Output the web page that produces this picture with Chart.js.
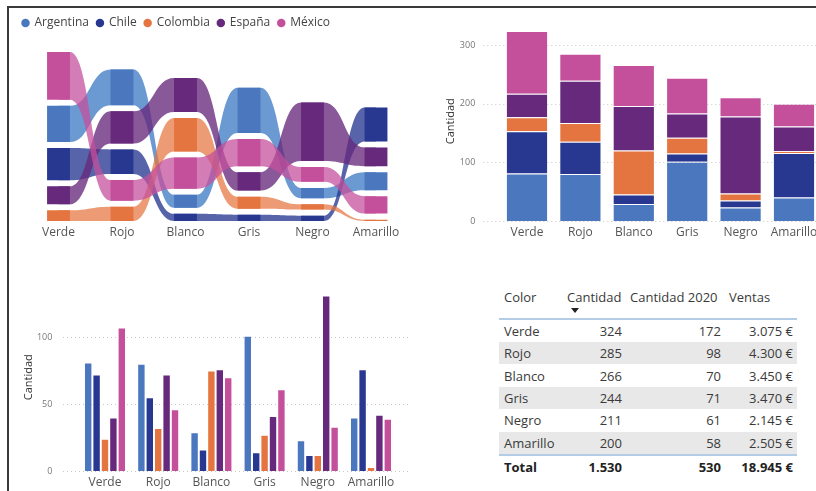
<!DOCTYPE html>
<html lang="es">
<head>
<meta charset="utf-8">
<title>Cantidad por color y país</title>
<script src="https://cdn.jsdelivr.net/npm/chart.js@4.4.1/dist/chart.umd.min.js"></script>
<style>
  body { margin: 0; width: 816px; height: 491px; overflow: hidden; background: #fff; position: relative;
         font-family: 'Segoe UI', 'Open Sans', sans-serif; }
  .marco { position: absolute; left: 7px; top: 6px; width: 900px; height: 600px;
           border-left: 2px solid #3a3a3a; border-top: 2px solid #3a3a3a; }
  canvas { position: absolute; }
  #cinta { left: 10px; top: 9px; }
  #apilado { left: 420px; top: 9px; }
  #agrupado { left: 10px; top: 255px; }
  #tabla { position: absolute; left: 499px; top: 285px; width: 298px; border-collapse: collapse;
           font-size: 13px; color: #3a3a3a; }
  #tabla th { font-weight: normal; text-align: left; vertical-align: top; height: 34px; padding: 4px 4px 0 4px;
              line-height: 17px; border-bottom: 2px solid #b4cde6; box-sizing: border-box; white-space: nowrap; }
  #tabla td { height: 22.4px; padding: 0 4px; line-height: 22px; text-align: right; white-space: nowrap; box-sizing: border-box; }
  #tabla td:first-child { text-align: left; padding-left: 5px; }
  #tabla th:first-child { padding-left: 5px; }
  #tabla tr.par td { background: #e8e8e8; }
  #tabla tr.total td { font-weight: bold; color: #222; border-top: 2px solid #b4cde6; height: 21px; }
  .flecha { width: 0; height: 0; margin: 2px 0 0 4px; border-left: 4px solid transparent;
            border-right: 4px solid transparent; border-top: 5px solid #222; }
</style>
</head>
<body>
<div class="marco"></div>
<canvas id="cinta" width="406" height="236"></canvas>
<canvas id="apilado" width="420" height="236"></canvas>
<canvas id="agrupado" width="410" height="236"></canvas>
<table id="tabla"></table>

<script>
// Datos: cantidad por color y país
const colores = ['Verde', 'Rojo', 'Blanco', 'Gris', 'Negro', 'Amarillo'];
const paises = ['Argentina', 'Chile', 'Colombia', 'España', 'México'];
const argentina = [81, 80, 29, 101, 23, 40];
const chile = [72, 55, 16, 14, 12, 76];
const colombia = [24, 32, 75, 27, 12, 3];
const espana = [40, 72, 76, 41, 131, 42];
const mexico = [107, 46, 70, 61, 33, 39];

// Datos de la tabla
const cantidad = [324, 285, 266, 244, 211, 200];
const cantidad2020 = [172, 98, 70, 71, 61, 58];
const ventas = [3075, 4300, 3450, 3470, 2145, 2505];

// Marcas de los ejes
const ticksApilado = [0, 100, 200, 300];
const ticksAgrupado = [0, 50, 100];

const series = [argentina, chile, colombia, espana, mexico];
const paleta = ['#4a77be', '#283891', '#e57540', '#66297c', '#c4509c'];
const paletaCinta = ['rgba(74,130,200,0.82)', 'rgba(40,56,145,0.78)', 'rgba(229,117,64,0.72)', 'rgba(102,41,124,0.78)', 'rgba(196,80,156,0.75)'];
const bordeBarra = 'rgba(255,255,255,0.3)';

Chart.defaults.font.family = "'Segoe UI', 'Open Sans', sans-serif";
Chart.defaults.animation = false;
Chart.defaults.layout.autoPadding = false;
Chart.defaults.plugins.tooltip.enabled = false;

const ejeX = {
  grid: { display: false, drawTicks: false },
  border: { display: false },
  ticks: { color: '#555', font: { size: 12 }, padding: 4, maxRotation: 0, autoSkip: false },
  afterFit: s => { s.height = 20; s.paddingLeft = 0; s.paddingRight = 0; }
};

// Eje Y con ancho fijo y sin relleno automático
function ejeYFijo(ancho) {
  return s => { s.width = ancho; s.paddingTop = 0; s.paddingBottom = 0; };
}

// Rejilla punteada que sobresale del área del gráfico
const rejilla = {
  id: 'rejilla',
  beforeDatasetsDraw(chart, args, opts) {
    const { ctx, chartArea, scales: { y } } = chart;
    ctx.save();
    ctx.strokeStyle = '#c6c6c6';
    ctx.lineWidth = 1;
    ctx.setLineDash([1, 3]);
    y.ticks.forEach(t => {
      const py = Math.round(y.getPixelForValue(t.value)) + 0.5;
      ctx.beginPath();
      ctx.moveTo(chartArea.left - opts.izquierda, py);
      ctx.lineTo(chartArea.right + opts.derecha, py);
      ctx.stroke();
    });
    ctx.restore();
  }
};

// Cintas entre barras del mismo país
const cintas = {
  id: 'cintas',
  beforeDatasetsDraw(chart) {
    const ctx = chart.ctx;
    ctx.save();
    chart.data.datasets.forEach((ds, d) => {
      const barras = chart.getDatasetMeta(d).data;
      ctx.fillStyle = paletaCinta[d];
      for (let i = 0; i < barras.length - 1; i++) {
        const a = barras[i], b = barras[i + 1];
        const x0 = a.x + a.width / 2, x1 = b.x - b.width / 2, xm = (x0 + x1) / 2;
        ctx.beginPath();
        ctx.moveTo(a.x, a.y);
        ctx.lineTo(x0, a.y);
        ctx.bezierCurveTo(xm, a.y, xm, b.y, x1, b.y);
        ctx.lineTo(b.x, b.y);
        ctx.lineTo(b.x, b.base);
        ctx.lineTo(x1, b.base);
        ctx.bezierCurveTo(xm, b.base, xm, a.base, x0, a.base);
        ctx.lineTo(a.x, a.base);
        ctx.closePath();
        ctx.fill();
      }
    });
    ctx.restore();
  }
};

// Posiciones de cada tramo: el mayor arriba, separados por un hueco
const hueco = 13.5;
function tramosCinta() {
  const tramos = series.map(() => []);
  colores.forEach((_, i) => {
    const orden = series.map((s, k) => k).sort((a, b) => series[a][i] - series[b][i]);
    let base = 0;
    orden.forEach(k => {
      tramos[k][i] = [base, base + series[k][i]];
      base += series[k][i] + hueco;
    });
  });
  return tramos;
}

// Gráfico de cintas
const tramos = tramosCinta();
new Chart(document.getElementById('cinta'), {
  type: 'bar',
  data: {
    labels: colores,
    datasets: paises.map((p, k) => ({
      label: p,
      data: tramos[k],
      backgroundColor: paleta[k],
      categoryPercentage: 0.36,
      barPercentage: 1
    }))
  },
  options: {
    responsive: false,
    layout: { padding: { left: 4.5, right: 8.25, top: 0, bottom: 4 } },
    plugins: {
      legend: {
        position: 'top', align: 'start',
        labels: { usePointStyle: true, pointStyle: 'circle', boxWidth: 6, boxHeight: 6, padding: 8,
                  color: '#444', font: { size: 12 } }
      }
    },
    scales: {
      x: { ...ejeX, stacked: true },
      y: {
        min: 0, max: 407,
        grid: { display: false, drawTicks: false }, border: { display: false },
        ticks: { display: false },
        afterFit: ejeYFijo(12.25)
      }
    }
  },
  plugins: [cintas]
});

// Gráfico de columnas apiladas
new Chart(document.getElementById('apilado'), {
  type: 'bar',
  data: {
    labels: colores,
    datasets: paises.map((p, k) => ({
      label: p, data: series[k], backgroundColor: paleta[k],
      borderColor: bordeBarra, borderWidth: 1,
      categoryPercentage: 0.79, barPercentage: 1
    }))
  },
  options: {
    responsive: false,
    layout: { padding: { left: 24.5, right: 19.3, top: 12.5, bottom: 4 } },
    plugins: { legend: { display: false }, rejilla: { izquierda: 17, derecha: 20 } },
    scales: {
      x: { ...ejeX, stacked: true },
      y: {
        stacked: true, min: 0, max: 340,
        grid: { display: false, drawTicks: false }, border: { display: false },
        afterBuildTicks: s => { s.ticks = ticksApilado.map(v => ({ value: v })); },
        ticks: { color: '#777', font: { size: 9 }, padding: 25 },
        title: { display: true, text: 'Cantidad', color: '#333', font: { size: 11 }, padding: 0 },
        afterFit: ejeYFijo(55.8)
      }
    }
  },
  plugins: [rejilla]
});

// Gráfico de columnas agrupadas
new Chart(document.getElementById('agrupado'), {
  type: 'bar',
  data: {
    labels: colores,
    datasets: paises.map((p, k) => ({
      label: p, data: series[k], backgroundColor: paleta[k],
      borderColor: bordeBarra, borderWidth: 1,
      categoryPercentage: 0.79, barPercentage: 1
    }))
  },
  options: {
    responsive: false,
    layout: { padding: { left: 12.4, right: 22.4, top: 28.4, bottom: 0 } },
    plugins: { legend: { display: false }, rejilla: { izquierda: 15.4, derecha: 12.4 } },
    scales: {
      x: { ...ejeX },
      y: {
        min: 0, max: 140,
        grid: { display: false, drawTicks: false }, border: { display: false },
        afterBuildTicks: s => { s.ticks = ticksAgrupado.map(v => ({ value: v })); },
        ticks: { color: '#777', font: { size: 9 }, padding: 26 },
        title: { display: true, text: 'Cantidad', color: '#333', font: { size: 11 }, padding: 0 },
        afterFit: ejeYFijo(56)
      }
    }
  },
  plugins: [rejilla]
});

// Tabla
function miles(n) {
  return String(n).replace(/\B(?=(\d{3})+(?!\d))/g, '.');
}
const suma = arr => arr.reduce((a, b) => a + b, 0);

const tabla = document.getElementById('tabla');
let html = '<colgroup><col style="width:64px"><col style="width:63px"><col style="width:99px"><col style="width:72px"></colgroup>';
html += '<tr><th>Color</th><th>Cantidad<div class="flecha"></div></th><th>Cantidad 2020</th><th>Ventas</th></tr>';
colores.forEach((c, i) => {
  html += `<tr class="${i % 2 ? 'par' : ''}"><td>${c}</td><td>${miles(cantidad[i])}</td><td>${miles(cantidad2020[i])}</td><td>${miles(ventas[i])} €</td></tr>`;
});
html += `<tr class="total"><td>Total</td><td>${miles(suma(cantidad))}</td><td>${miles(suma(cantidad2020))}</td><td>${miles(suma(ventas))} €</td></tr>`;
tabla.innerHTML = html;
</script>
</body>
</html>
